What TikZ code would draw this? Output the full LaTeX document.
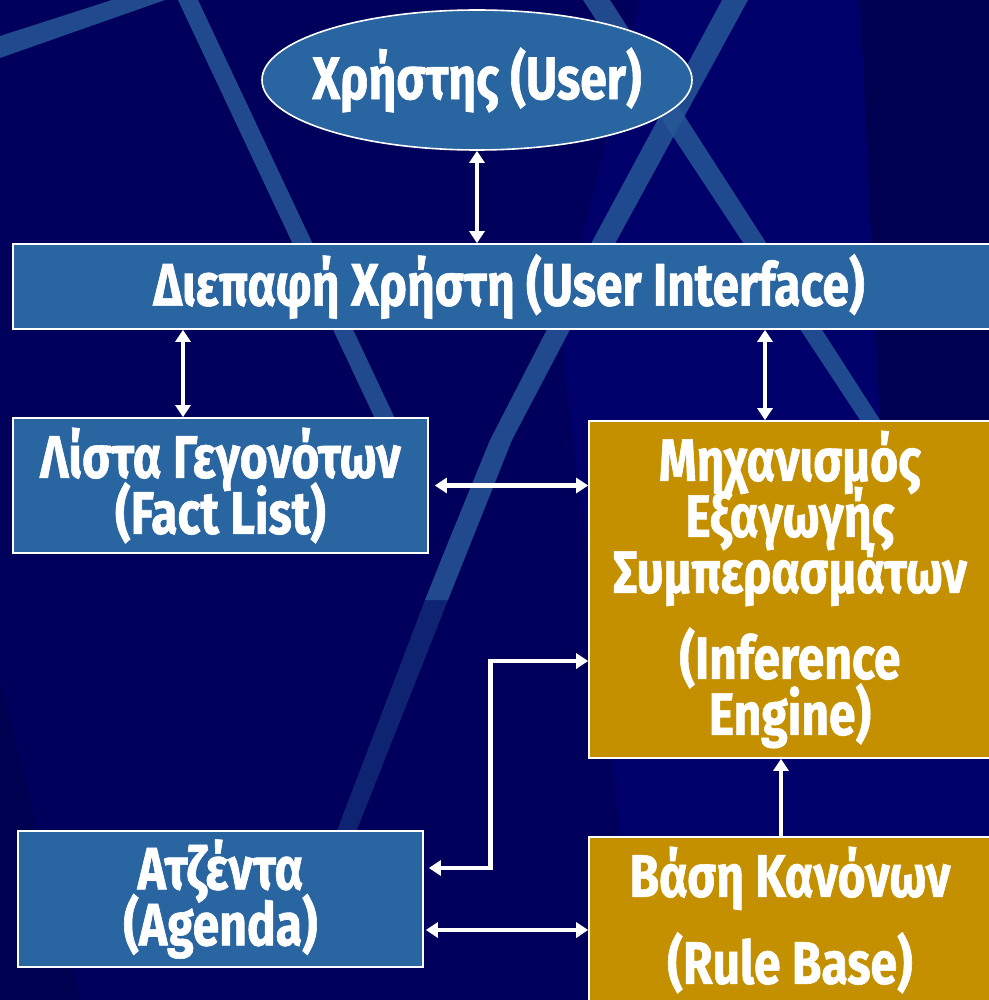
\documentclass[tikz,border=0pt]{standalone}
\usepackage{fontspec}
\newfontfamily\boxfont{Fira Sans}[FakeStretch=0.8, FakeBold=1]
\usepackage{tikz}
\usetikzlibrary{shapes.geometric, arrows.meta}
\definecolor{navy}{RGB}{0,0,92}
\definecolor{navylight}{RGB}{0,0,106}
\definecolor{navydark}{RGB}{0,0,80}
\definecolor{stripe}{RGB}{38,88,150}
\definecolor{boxblue}{RGB}{41,101,160}
\definecolor{boxgold}{RGB}{196,144,0}
\newcommand{\labelfont}{\boxfont\bfseries\fontsize{30}{28}\selectfont\lineskiplimit=-30pt}
\tikzstyle{bluebox} = [rectangle, draw=white, line width=0.8pt, fill=boxblue, text=white, align=center, inner sep=0pt, font=\labelfont]
\tikzstyle{goldbox} = [rectangle, draw=white, line width=0.8pt, fill=boxgold, text=white, align=center, inner sep=0pt, font=\labelfont]
\tikzstyle{userblob} = [ellipse, draw=white, line width=0.8pt, fill=boxblue, text=white, inner xsep=-10pt, inner ysep=0pt, font=\labelfont]
\tikzstyle{arrow} = [white, line width=2.4pt, {Triangle[length=6pt,width=7.5pt]}-{Triangle[length=6pt,width=7.5pt]}]
\tikzstyle{arrowone} = [white, line width=2.4pt, -{Triangle[length=6pt,width=7.5pt]}]
\tikzstyle{band} = [fill=stripe, opacity=0.85]

\begin{document}
\begin{tikzpicture}[x=0.5pt, y=-0.5pt]
        % background
        \useasboundingbox (0,0) rectangle (989,1000);
        \clip (0,0) rectangle (989,1000);
        \fill[navy] (0,0) rectangle (989,1000);
        \fill[navylight] (640,0) -- (560,330) -- (640,1000) -- (989,1000) -- (989,0) -- cycle;
        \fill[navydark] (0,680) -- (80,1000) -- (0,1000) -- cycle;
        \fill[navydark] (860,0) -- (989,0) -- (989,420) -- (880,420) -- cycle;
        \fill[band] (0,36) -- (0,58) -- (165,0) -- (112,0) -- cycle;
        \fill[band] (178,0) -- (198,0) -- (405,440) -- (385,440) -- cycle;
        \fill[band] (722,0) -- (748,0) -- (617,240) -- (512,440) -- (468,550) -- (448,600)
                -- (425,600) -- (445,550) -- (490,440) -- (593,240) -- cycle;
        \fill[stripe, opacity=0.4] (425,600) -- (448,600) -- (341,870) -- (322,870) -- cycle;
        \fill[band] (583,0) -- (610,0) -- (880,420) -- (860,420) -- cycle;

        % boxes
        \node (user) [userblob, minimum width=215pt, minimum height=70pt] at (477,80) {Χρήστης (User)};
        \node (ui) [bluebox, minimum width=496pt, minimum height=42.5pt] at (509,286.5) {Διεπαφή Χρήστη (User Interface)};
        \node (facts) [bluebox, minimum width=207.5pt, minimum height=67.5pt] at (220.5,485.5) {Λίστα Γεγονότων\\[0pt](Fact List)};
        \node (engine) [goldbox, minimum width=201pt, minimum height=168.5pt] at (790,589.5) {Μηχανισμός\\Εξαγωγής\\Συμπερασμάτων\\[15pt](Inference\\Engine)};
        \node (agenda) [bluebox, minimum width=202.5pt, minimum height=68pt] at (220.5,899) {Ατζέντα\\(Agenda)};
        \node (rules) [goldbox, minimum width=201pt, minimum height=83pt] at (790,920) {Βάση Κανόνων\\[15.5pt](Rule Base)};

        % connectors
        \draw [arrow] (user.south) -- (user.south |- ui.north);
        \draw [arrow] ([xshift=-18.75pt]facts.north) -- ([xshift=-18.75pt]facts.north |- ui.south);
        \draw [arrow] ([xshift=-12.5pt]engine.north) -- ([xshift=-12.5pt]engine.north |- ui.south);
        \draw [arrow] ([xshift=3pt]facts.east) -- (facts.east -| engine.west);
        \draw [arrow] ([xshift=1pt,yshift=-15.5pt]agenda.east) -- ([yshift=-15.5pt]agenda.east -| rules.west);
        \draw [arrow] ([xshift=2.5pt,yshift=15.5pt]agenda.east) -- ++(31pt,0) |- ([yshift=-35.75pt]engine.west);
        \draw [arrowone] ([xshift=-4.5pt]rules.north) -- ([xshift=-4.5pt]engine.south);

        \end{tikzpicture}
\end{document}
